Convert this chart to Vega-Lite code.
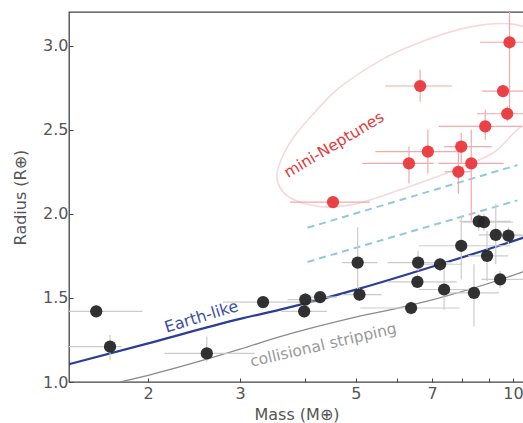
{
  "$schema": "https://vega.github.io/schema/vega-lite/v6.json",
  "width": 455,
  "height": 370,
  "autosize": {"type": "none"},
  "padding": {"left": 69, "top": 12, "right": 0, "bottom": 41},
  "background": "white",
  "config": {
    "font": "DejaVu Sans",
    "view": {"stroke": "#444", "strokeWidth": 1.3},
    "axis": {
      "domain": false,
      "grid": false,
      "tickSize": -4,
      "tickColor": "#444",
      "labelFont": "DejaVu Sans",
      "labelFontSize": 16,
      "labelColor": "#555",
      "titleFont": "DejaVu Sans",
      "titleFontSize": 16,
      "titleFontWeight": "normal",
      "titleColor": "#555"
    }
  },
  "datasets": {
    "black": [
      {"m": 1.59, "r": 1.42, "mlo": 1.30, "mhi": 1.95, "rlo": 1.39, "rhi": 1.45},
      {"m": 1.69, "r": 1.21, "mlo": 1.35, "mhi": 1.78, "rlo": 1.13, "rhi": 1.28},
      {"m": 2.59, "r": 1.17, "mlo": 2.15, "mhi": 3.2, "rlo": 1.12, "rhi": 1.27},
      {"m": 3.32, "r": 1.475, "mlo": 2.78, "mhi": 4.2, "rlo": 1.45, "rhi": 1.5},
      {"m": 4.0, "r": 1.49, "mlo": 3.7, "mhi": 4.4, "rlo": 1.45, "rhi": 1.53},
      {"m": 3.98, "r": 1.42, "mlo": 3.6, "mhi": 4.4, "rlo": 1.38, "rhi": 1.46},
      {"m": 4.27, "r": 1.505, "mlo": 3.9, "mhi": 4.6, "rlo": 1.47, "rhi": 1.54},
      {"m": 5.04, "r": 1.71, "mlo": 4.7, "mhi": 5.5, "rlo": 1.5, "rhi": 1.92},
      {"m": 5.08, "r": 1.52, "mlo": 4.7, "mhi": 5.6, "rlo": 1.48, "rhi": 1.56},
      {"m": 6.38, "r": 1.44, "mlo": 5.1, "mhi": 7.9, "rlo": 1.4, "rhi": 1.48},
      {"m": 6.56, "r": 1.595, "mlo": 5.75, "mhi": 7.8, "rlo": 1.56, "rhi": 1.64},
      {"m": 6.58, "r": 1.71, "mlo": 5.75, "mhi": 7.6, "rlo": 1.66, "rhi": 1.78},
      {"m": 7.25, "r": 1.7, "mlo": 6.6, "mhi": 8.0, "rlo": 1.66, "rhi": 1.74},
      {"m": 7.38, "r": 1.55, "mlo": 6.6, "mhi": 8.4, "rlo": 1.43, "rhi": 1.68},
      {"m": 7.96, "r": 1.81, "mlo": 6.6, "mhi": 9.9, "rlo": 1.61, "rhi": 1.99},
      {"m": 8.42, "r": 1.53, "mlo": 7.5, "mhi": 9.4, "rlo": 1.33, "rhi": 1.7},
      {"m": 8.6, "r": 1.955, "mlo": 7.9, "mhi": 9.9, "rlo": 1.9, "rhi": 2.0},
      {"m": 8.8, "r": 1.95, "mlo": 8.0, "mhi": 10.0, "rlo": 1.9, "rhi": 2.0},
      {"m": 8.92, "r": 1.75, "mlo": 8.2, "mhi": 9.8, "rlo": 1.6, "rhi": 1.9},
      {"m": 9.27, "r": 1.875, "mlo": 8.6, "mhi": 10.4, "rlo": 1.7, "rhi": 2.06},
      {"m": 9.45, "r": 1.61, "mlo": 8.7, "mhi": 10.5, "rlo": 1.56, "rhi": 1.66},
      {"m": 9.8, "r": 1.87, "mlo": 9.0, "mhi": 11.0, "rlo": 1.82, "rhi": 1.92}
    ],
    "red": [
      {"m": 9.85, "r": 3.02, "mlo": 8.65, "mhi": 11.0, "rlo": 2.62, "rhi": 3.4},
      {"m": 6.64, "r": 2.76, "mlo": 5.69, "mhi": 7.64, "rlo": 2.667, "rhi": 2.857},
      {"m": 9.57, "r": 2.73, "mlo": 8.73, "mhi": 11.0, "rlo": 2.7, "rhi": 2.76},
      {"m": 9.75, "r": 2.595, "mlo": 8.53, "mhi": 11.0, "rlo": 2.55, "rhi": 2.64},
      {"m": 8.85, "r": 2.52, "mlo": 7.2, "mhi": 10.4, "rlo": 2.44, "rhi": 2.62},
      {"m": 6.87, "r": 2.37, "mlo": 5.45, "mhi": 8.0, "rlo": 2.24, "rhi": 2.5},
      {"m": 7.96, "r": 2.4, "mlo": 7.38, "mhi": 9.1, "rlo": 2.3, "rhi": 2.48},
      {"m": 6.32, "r": 2.3, "mlo": 5.14, "mhi": 7.05, "rlo": 2.18, "rhi": 2.4},
      {"m": 8.32, "r": 2.3, "mlo": 7.2, "mhi": 9.6, "rlo": 1.96, "rhi": 2.5},
      {"m": 7.86, "r": 2.25, "mlo": 7.4, "mhi": 8.3, "rlo": 2.12, "rhi": 2.38},
      {"m": 4.52, "r": 2.07, "mlo": 3.74, "mhi": 5.32, "rlo": 2.05, "rhi": 2.09}
    ],
    "earth": [
      {"m": 1.35, "r": 1.09},
      {"m": 2.0, "r": 1.23},
      {"m": 3.0, "r": 1.375},
      {"m": 3.58, "r": 1.43},
      {"m": 5.08, "r": 1.555},
      {"m": 7.25, "r": 1.7},
      {"m": 10.45, "r": 1.857},
      {"m": 11.0, "r": 1.88}
    ],
    "strip": [
      {"m": 1.77, "r": 1.0},
      {"m": 2.0, "r": 1.04},
      {"m": 3.0, "r": 1.195},
      {"m": 3.58, "r": 1.27},
      {"m": 4.9, "r": 1.38},
      {"m": 6.35, "r": 1.455},
      {"m": 10.45, "r": 1.655},
      {"m": 11.0, "r": 1.68}
    ],
    "dash": [
      {"g": "upper", "m": 4.04, "r": 1.917},
      {"g": "upper", "m": 10.2, "r": 2.29},
      {"g": "lower", "m": 4.04, "r": 1.714},
      {"g": "lower", "m": 10.2, "r": 2.08}
    ],
    "ellipse": [
      {"o": 1, "m": 3.53, "r": 2.232},
      {"o": 2, "m": 3.63, "r": 2.351},
      {"o": 3, "m": 3.83, "r": 2.47},
      {"o": 4, "m": 4.18, "r": 2.607},
      {"o": 5, "m": 4.65, "r": 2.75},
      {"o": 6, "m": 5.61, "r": 2.917},
      {"o": 7, "m": 6.7, "r": 3.024},
      {"o": 8, "m": 8.0, "r": 3.101},
      {"o": 9, "m": 9.25, "r": 3.131},
      {"o": 10, "m": 10.33, "r": 3.119},
      {"o": 11, "m": 11.8, "r": 3.036},
      {"o": 12, "m": 12.6, "r": 2.857},
      {"o": 13, "m": 11.6, "r": 2.62},
      {"o": 14, "m": 10.2, "r": 2.5},
      {"o": 15, "m": 9.17, "r": 2.363},
      {"o": 16, "m": 7.58, "r": 2.25},
      {"o": 17, "m": 6.08, "r": 2.143},
      {"o": 18, "m": 5.09, "r": 2.065},
      {"o": 19, "m": 4.45, "r": 2.04},
      {"o": 20, "m": 4.0, "r": 2.06},
      {"o": 21, "m": 3.72, "r": 2.1},
      {"o": 22, "m": 3.58, "r": 2.155}
    ]
  },
  "encoding": {
    "x": {
      "field": "m",
      "type": "quantitative",
      "scale": {"type": "log", "domain": [1.41, 10.5], "nice": false},
      "axis": {
        "title": "Mass (M⊕)",
        "values": [2, 3, 4, 5, 6, 7, 8, 9, 10],
        "labelExpr": "indexof([2,3,5,7,10], datum.value) >= 0 ? datum.value : ''",
        "labelPadding": 7,
        "titlePadding": 5
      }
    },
    "y": {
      "field": "r",
      "type": "quantitative",
      "scale": {"domain": [1.0, 3.2], "nice": false, "zero": false},
      "axis": {
        "title": "Radius (R⊕)",
        "values": [1.0, 1.5, 2.0, 2.5, 3.0],
        "format": ".1f",
        "labelPadding": 5,
        "titlePadding": 14
      }
    }
  },
  "layer": [
    {
      "data": {"name": "ellipse"},
      "mark": {"type": "line", "interpolate": "cardinal-closed", "color": "#f7d8db", "strokeWidth": 1.6, "clip": true},
      "encoding": {"order": {"field": "o", "type": "quantitative"}}
    },
    {
      "data": {"name": "dash"},
      "mark": {"type": "line", "color": "#8fcadb", "strokeWidth": 2, "strokeDash": [7, 5], "clip": true},
      "encoding": {"detail": {"field": "g"}}
    },
    {
      "data": {"name": "strip"},
      "mark": {"type": "line", "color": "#8a8a8a", "strokeWidth": 1.3, "interpolate": "monotone", "clip": true},
      "encoding": {}
    },
    {
      "data": {"name": "earth"},
      "mark": {"type": "line", "color": "#2b3d97", "strokeWidth": 2.2, "interpolate": "monotone", "clip": true},
      "encoding": {}
    },
    {
      "data": {"name": "black"},
      "mark": {"type": "rule", "color": "#cccccc", "strokeWidth": 1.2, "clip": true},
      "encoding": {"x": {"field": "mlo"}, "x2": {"field": "mhi"}}
    },
    {
      "data": {"name": "black"},
      "mark": {"type": "rule", "color": "#cccccc", "strokeWidth": 1.2, "clip": true},
      "encoding": {"y": {"field": "rlo"}, "y2": {"field": "rhi"}}
    },
    {
      "data": {"name": "black"},
      "mark": {"type": "circle", "color": "#262626", "opacity": 0.95, "size": 150, "clip": true},
      "encoding": {}
    },
    {
      "data": {"name": "red"},
      "mark": {"type": "rule", "color": "#f4a9ab", "strokeWidth": 1.2, "clip": true},
      "encoding": {"x": {"field": "mlo"}, "x2": {"field": "mhi"}}
    },
    {
      "data": {"name": "red"},
      "mark": {"type": "rule", "color": "#f4a9ab", "strokeWidth": 1.2, "clip": true},
      "encoding": {"y": {"field": "rlo"}, "y2": {"field": "rhi"}}
    },
    {
      "data": {"name": "red"},
      "mark": {"type": "circle", "color": "#e8383d", "opacity": 0.95, "size": 150, "clip": true},
      "encoding": {}
    },
    {
      "data": {"values": [{"m": 4.54, "r": 2.41, "t": "mini-Neptunes"}]},
      "mark": {"type": "text", "color": "#e5393b", "fontSize": 15.5, "angle": 329, "align": "center", "baseline": "middle"},
      "encoding": {"text": {"field": "t"}}
    },
    {
      "data": {"values": [{"m": 2.53, "r": 1.387, "t": "Earth-like"}]},
      "mark": {"type": "text", "color": "#3b4ea3", "fontSize": 16, "angle": 343, "align": "center", "baseline": "middle"},
      "encoding": {"text": {"field": "t"}}
    },
    {
      "data": {"values": [{"m": 4.33, "r": 1.22, "t": "collisional stripping"}]},
      "mark": {"type": "text", "color": "#9a9a9a", "fontSize": 15.5, "angle": 347, "align": "center", "baseline": "middle"},
      "encoding": {"text": {"field": "t"}}
    }
  ]
}
